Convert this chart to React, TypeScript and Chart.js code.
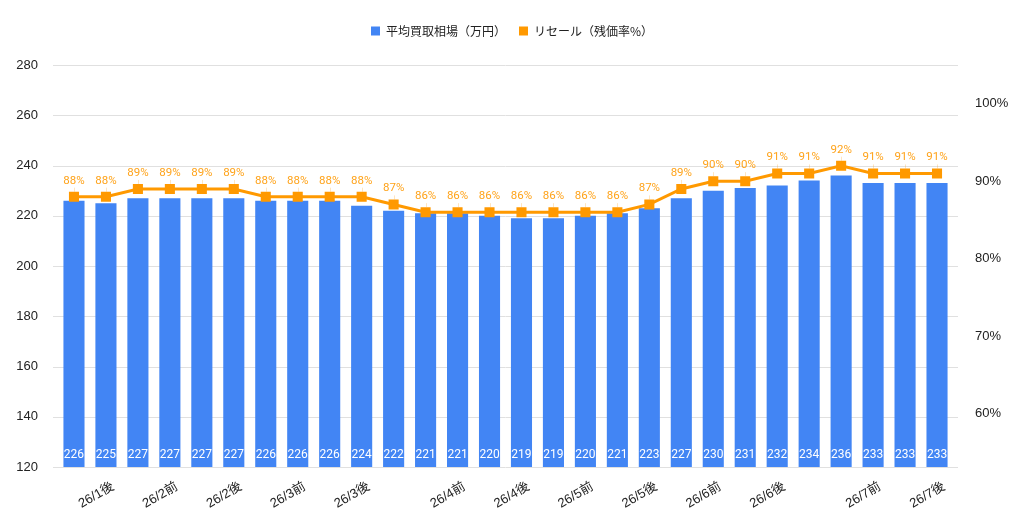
import React, { useEffect, useRef } from "react";
import { Chart, registerables } from "chart.js";

Chart.register(...registerables);

// x categories (only some are labelled in the original)
const xLabels = [
  "", "26/1後", "", "26/2前", "", "26/2後", "", "26/3前", "", "26/3後",
  "", "", "26/4前", "", "26/4後", "", "26/5前", "", "26/5後", "",
  "26/6前", "", "26/6後", "", "", "26/7前", "", "26/7後",
];

// 平均買取相場（万円）
const avgPrice = [
  226, 225, 227, 227, 227, 227, 226, 226, 226, 224,
  222, 221, 221, 220, 219, 219, 220, 221, 223, 227,
  230, 231, 232, 234, 236, 233, 233, 233,
];

// リセール（残価率%）
const resaleRate = [
  88, 88, 89, 89, 89, 89, 88, 88, 88, 88,
  87, 86, 86, 86, 86, 86, 86, 86, 87, 89,
  90, 90, 91, 91, 92, 91, 91, 91,
];

const leftTicks = [120, 140, 160, 180, 200, 220, 240, 260, 280];
const rightTicks = [60, 70, 80, 90, 100];

const AXIS_FONT = "'Liberation Sans', Arial, 'Noto Sans CJK JP', sans-serif";
const LABEL_FONT = "Roboto, 'Noto Sans CJK JP', sans-serif";
const LEGEND_FONT = "'Noto Sans CJK JP', sans-serif";
const BLUE = "#4285F4";
const ORANGE = "#FF9900";

// extra room below the legend
const legendGapPlugin = {
  id: "legendGap",
  beforeLayout(chart: any) {
    const legend = chart.legend;
    if (legend && !legend._gapPatched) {
      const fit = legend.fit;
      legend.fit = function () {
        fit.call(this);
        this.height += 18;
      };
      legend._gapPatched = true;
    }
  },
};

// horizontal grid lines, a little wider than the plot area
const gridPlugin = {
  id: "wideGrid",
  beforeDatasetsDraw(chart: any) {
    const { ctx, chartArea, scales } = chart;
    const y = scales.y;
    ctx.save();
    ctx.strokeStyle = "#e0e0e0";
    ctx.lineWidth = 1;
    leftTicks.forEach((v) => {
      const py = Math.round(y.getPixelForValue(v)) + 0.5;
      ctx.beginPath();
      ctx.moveTo(chartArea.left - 5, py);
      ctx.lineTo(chartArea.right + 5, py);
      ctx.stroke();
    });
    ctx.restore();
  },
};

// value labels for bars (white, inside bottom) and line (orange, above)
const labelPlugin = {
  id: "valueLabels",
  afterDatasetsDraw(chart: any) {
    const { ctx, chartArea } = chart;
    ctx.save();
    ctx.textAlign = "center";
    ctx.textBaseline = "middle";
    ctx.font = `12px ${LABEL_FONT}`;
    ctx.fillStyle = "#ffffff";
    chart.getDatasetMeta(1).data.forEach((bar: any, i: number) => {
      ctx.fillText(String(avgPrice[i]), bar.x, chartArea.bottom - 12);
    });
    ctx.font = `11.5px ${LABEL_FONT}`;
    chart.getDatasetMeta(0).data.forEach((pt: any, i: number) => {
      // faint leader from label to point
      ctx.strokeStyle = "rgba(255,153,0,0.25)";
      ctx.lineWidth = 1;
      ctx.beginPath();
      ctx.moveTo(Math.round(pt.x) + 0.5, pt.y - 9);
      ctx.lineTo(Math.round(pt.x) + 0.5, pt.y - 5);
      ctx.stroke();
      ctx.fillStyle = "#FFA31A";
      ctx.fillText(resaleRate[i] + "%", pt.x, pt.y - 16);
    });
    ctx.restore();
  },
};

const App: React.FC = () => {
  const chartRef = useRef<HTMLCanvasElement>(null);

  useEffect(() => {
    if (!chartRef.current) return;
    const chart = new Chart(chartRef.current, {
      type: "bar",
      data: {
        labels: xLabels,
        datasets: [
          {
            type: "line",
            label: "リセール（残価率%）",
            data: resaleRate,
            borderColor: ORANGE,
            backgroundColor: ORANGE,
            borderWidth: 3,
            pointStyle: "rect",
            pointRadius: 5,
            yAxisID: "y1",
          },
          {
            type: "bar",
            label: "平均買取相場（万円）",
            data: avgPrice,
            backgroundColor: BLUE,
            yAxisID: "y",
            barPercentage: 0.66,
            categoryPercentage: 1,
          },
        ] as any,
      },
      options: {
        responsive: true,
        maintainAspectRatio: false,
        animation: false,
        layout: { padding: { top: 12, left: 0, right: 0, bottom: 0 } },
        plugins: {
          legend: {
            position: "top",
            reverse: true,
            labels: {
              font: { family: LEGEND_FONT, size: 12 },
              color: "#222222",
              boxWidth: 9,
              boxHeight: 9,
              padding: 13,
              generateLabels: (c: any) =>
                Chart.defaults.plugins.legend.labels
                  .generateLabels(c)
                  .map((l: any) => ({ ...l, lineWidth: 0 })),
            },
          },
          tooltip: { enabled: false },
        },
        scales: {
          x: {
            grid: { display: false },
            border: { display: false },
            ticks: {
              autoSkip: false,
              maxRotation: 30,
              minRotation: 30,
              labelOffset: 7,
              font: { family: AXIS_FONT, size: 13 },
              color: "#222222",
              padding: 4,
            },
            afterFit: (s: any) => {
              s.height = 57;
            },
          },
          y: {
            position: "left",
            min: 120,
            max: 280,
            grid: { display: false },
            border: { display: false },
            afterBuildTicks: (s: any) => {
              s.ticks = leftTicks.map((v) => ({ value: v }));
            },
            ticks: {
              font: { family: AXIS_FONT, size: 13 },
              color: "#222222",
              padding: 12,
            },
            afterFit: (s: any) => {
              s.width = 58;
            },
          },
          y1: {
            position: "right",
            min: 53.1,
            max: 105.0,
            grid: { display: false },
            border: { display: false },
            afterBuildTicks: (s: any) => {
              s.ticks = rightTicks.map((v) => ({ value: v }));
            },
            ticks: {
              font: { family: AXIS_FONT, size: 13 },
              color: "#222222",
              padding: 14,
              callback: (v: any) => v + "%",
            },
            afterFit: (s: any) => {
              s.width = 71;
            },
          },
        },
      },
      plugins: [legendGapPlugin, gridPlugin, labelPlugin],
    });
    return () => {
      chart.destroy();
    };
  }, []);

  return (
    <div
      style={{
        position: "fixed",
        left: 0,
        top: 0,
        width: 1024,
        height: 524,
        background: "#ffffff",
      }}
    >
      <canvas ref={chartRef} />
    </div>
  );
};

export default App;
